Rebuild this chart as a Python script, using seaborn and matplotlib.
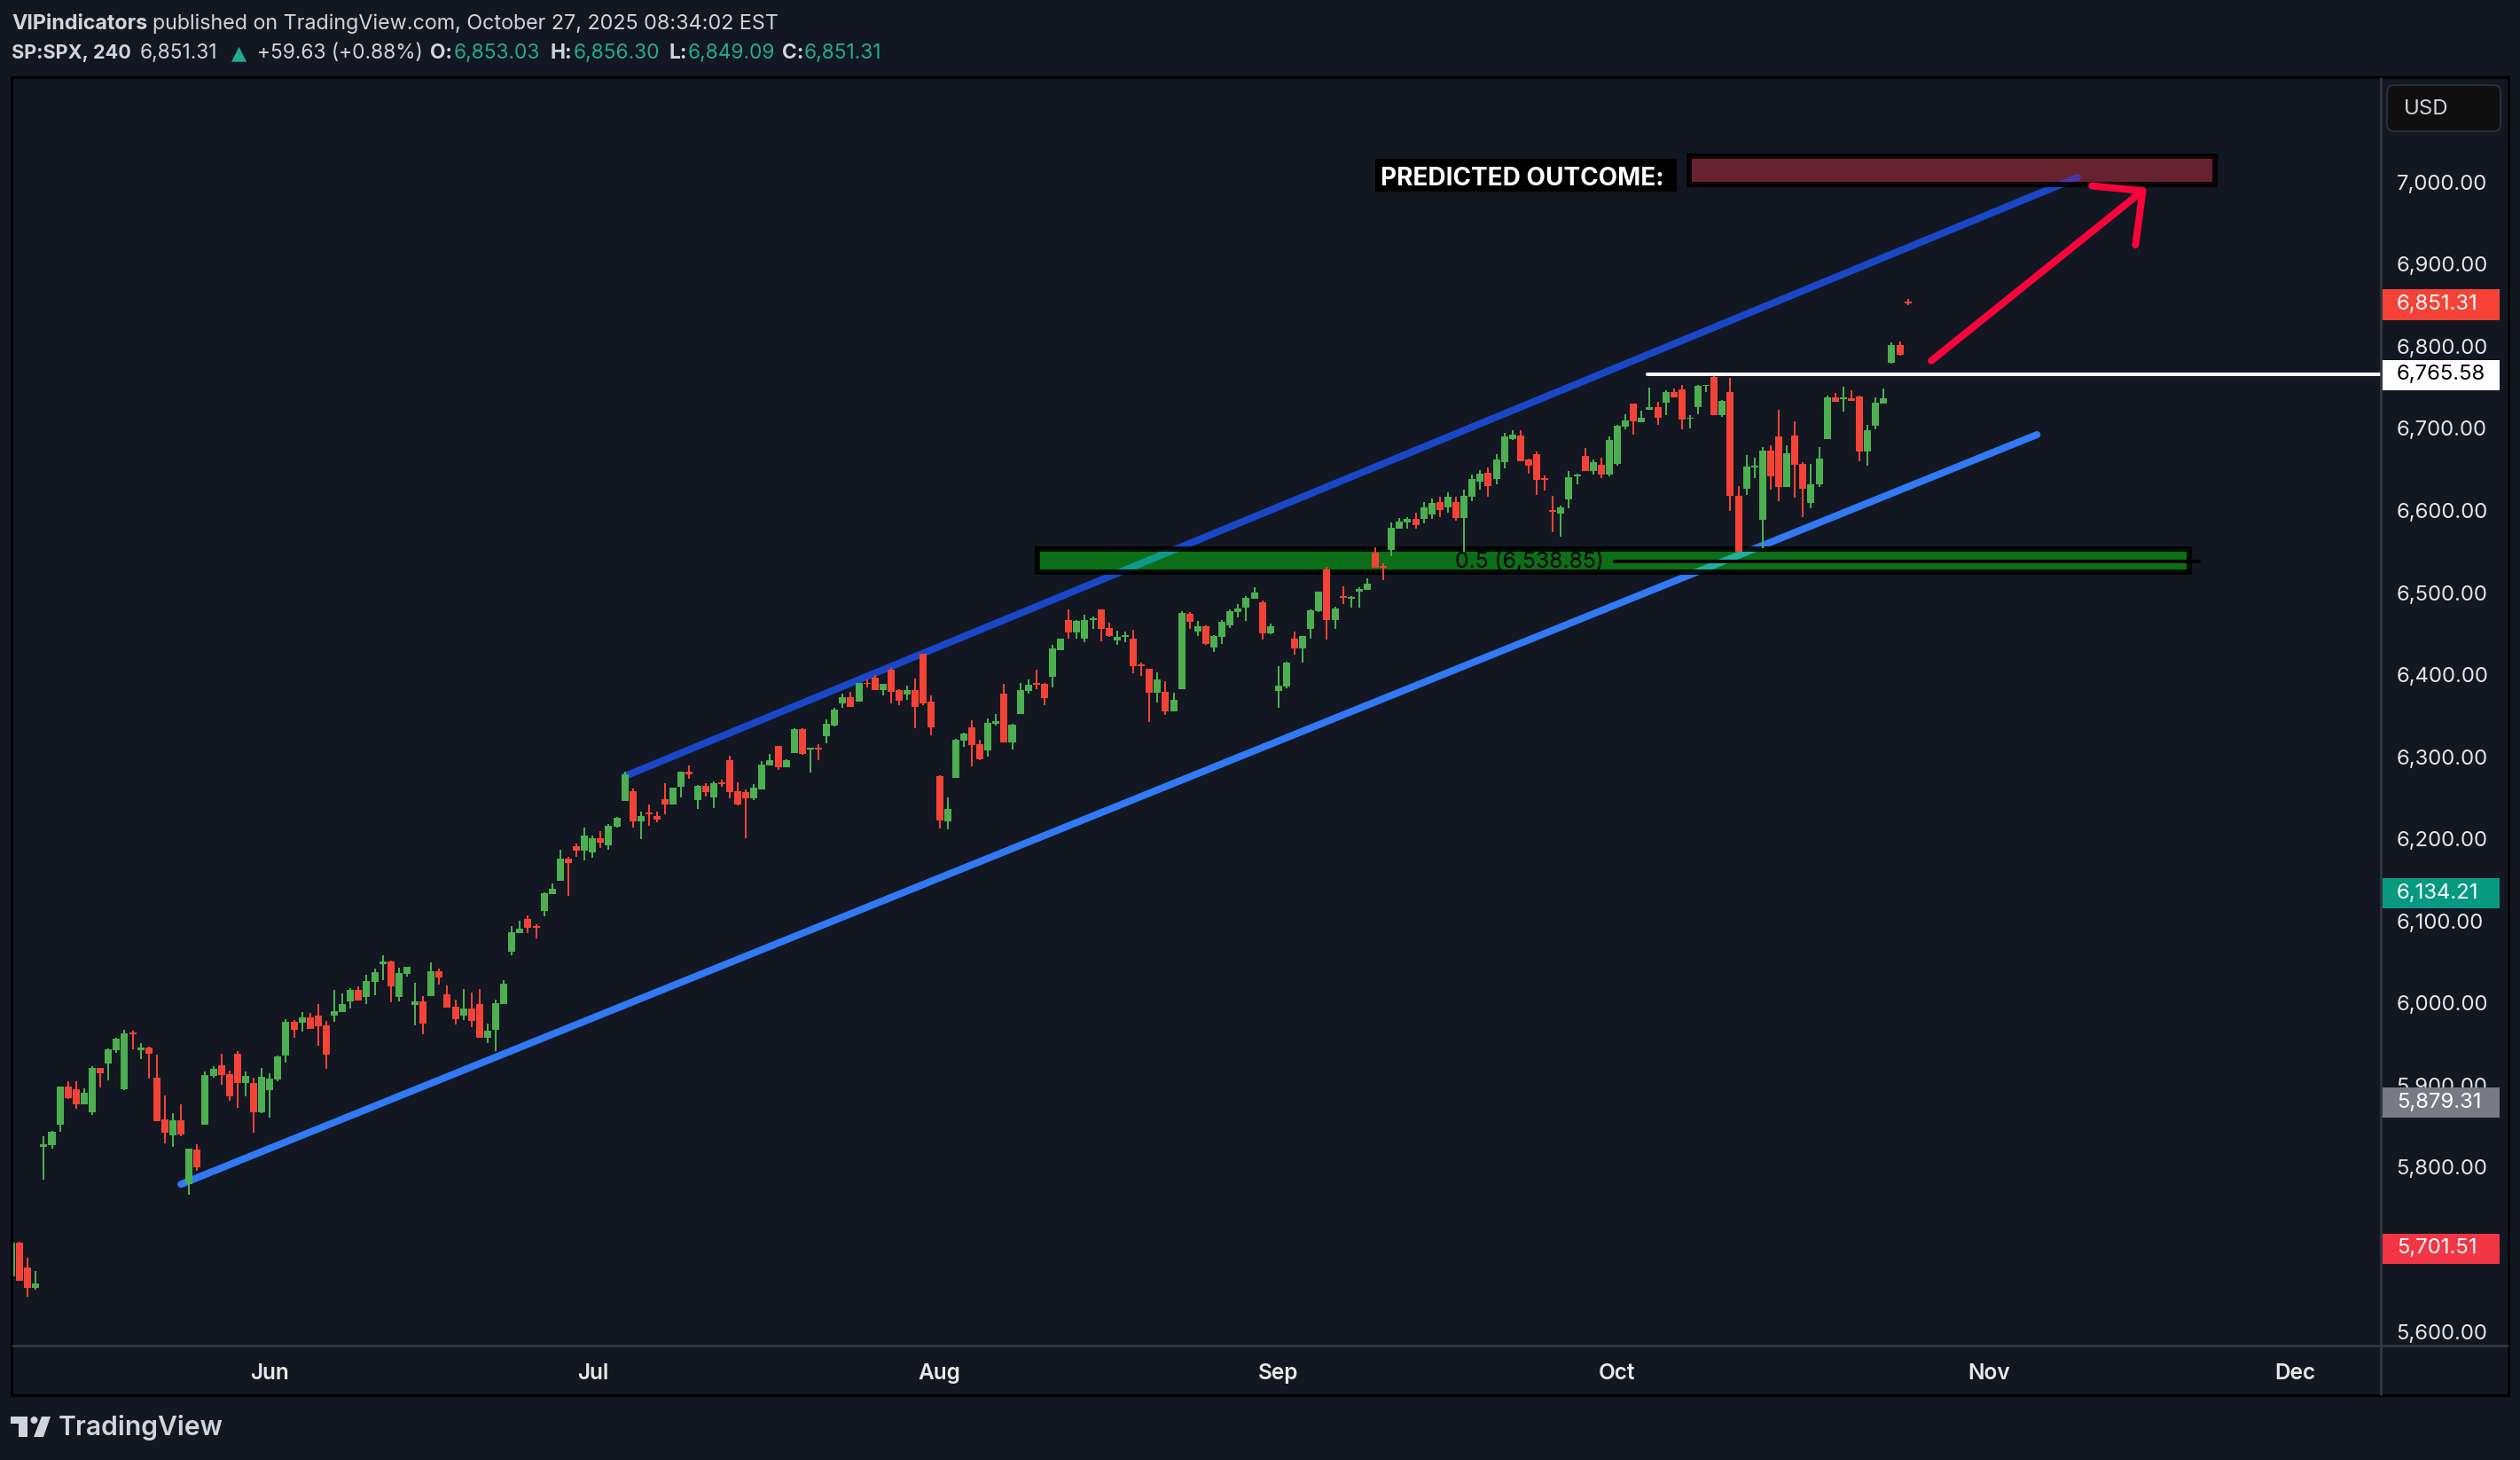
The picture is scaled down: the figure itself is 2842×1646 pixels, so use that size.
import pandas as pd
import matplotlib
matplotlib.use("Agg")
import matplotlib.pyplot as plt
import seaborn as sns
from matplotlib.patches import Rectangle, Polygon, Circle, FancyBboxPatch
from matplotlib.transforms import ScaledTranslation

# candles, 4h bars
opens = [
    5666,5707,5677,5652,5824,5826,5851,5897,5894,5875,
    5866,5920,5925,5941,5894,5963,5941,5944,5908,5857,
    5838,5856,5778,5820,5851,5910,5923,5912,5937,5901,
    5901,5866,5893,5906,5935,5976,5975,5981,5983,5972,
    5983,5988,6001,6015,6006,6024,6046,6049,6006,6034,
    5996,6001,6007,6037,6009,5994,5983,5992,5997,5956,
    5966,5997,6061,6084,6101,6092,6111,6131,6148,6175,
    6190,6184,6182,6200,6191,6213,6245,6257,6220,6231,
    6227,6247,6241,6262,6280,6246,6263,6249,6267,6294,
    6257,6256,6248,6259,6288,6312,6286,6303,6332,6307,
    6310,6324,6337,6364,6371,6366,6389,6395,6380,6405,
    6380,6374,6380,6424,6366,6275,6220,6273,6318,6334,
    6314,6306,6339,6376,6316,6351,6379,6389,6387,6396,
    6429,6465,6450,6443,6465,6478,6455,6440,6445,6442,
    6411,6406,6377,6378,6354,6381,6473,6451,6458,6432,
    6445,6459,6475,6480,6491,6487,6449,6379,6384,6443,
    6431,6454,6476,6527,6465,6494,6491,6500,6502,6547,
    6531,6551,6577,6584,6588,6588,6594,6609,6602,6609,
    6590,6615,6634,6645,6637,6658,6686,6690,6661,6667,
    6638,6599,6595,6612,6640,6665,6647,6654,6642,6655,
    6701,6729,6706,6721,6725,6730,6743,6746,6710,6724,
    6750,6761,6715,6743,6617,6625,6651,6587,6672,6689,
    6627,6690,6655,6608,6630,6686,6736,6734,6735,6738,
    6671,6702,6729,6779,6800,6853.03,
]
closes = [
    5707,5660,5652,5657,5827,5842,5897,5883,5875,5889,
    5920,5913,5942,5955,5962,5961,5944,5937,5855,5841,
    5856,5839,5821,5799,5911,5919,5911,5885,5901,5910,
    5866,5909,5907,5934,5976,5966,5981,5967,5970,5936,
    5989,5997,6015,6002,6026,6036,6049,6019,6035,6043,
    6001,5974,6037,6030,5993,5979,5992,5977,5956,5965,
    5999,6022,6085,6089,6090,6090,6132,6138,6175,6169,
    6184,6203,6200,6194,6215,6224,6277,6220,6227,6229,
    6222,6241,6261,6280,6277,6263,6256,6266,6265,6256,
    6240,6248,6261,6289,6294,6286,6294,6332,6302,6310,
    6307,6339,6356,6371,6359,6388,6387,6380,6387,6378,
    6367,6380,6359,6364,6335,6221,6235,6319,6327,6313,
    6296,6340,6342,6316,6338,6380,6386,6386,6370,6431,
    6443,6450,6464,6465,6467,6454,6446,6445,6447,6409,
    6409,6377,6393,6354,6368,6474,6463,6458,6436,6446,
    6463,6476,6479,6492,6499,6449,6458,6385,6413,6431,
    6446,6477,6500,6465,6479,6492,6493,6503,6509,6529,
    6529,6578,6585,6588,6581,6602,6608,6599,6615,6590,
    6617,6637,6643,6628,6661,6689,6691,6659,6653,6636,
    6636,6597,6602,6639,6642,6647,6658,6642,6685,6702,
    6708,6707,6712,6725,6712,6743,6736,6709,6712,6750,
    6752,6715,6732,6616,6548,6652,6653,6672,6640,6627,
    6668,6654,6625,6630,6662,6736,6731,6736,6732,6671,
    6696,6730,6735,6800,6788,6851.31,
]
highs = [
    5707,5708,5689,5672,5837,5843,5897,5903,5903,5895,
    5922,5920,5943,5956,5966,5965,5950,5946,5936,5886,
    5865,5875,5821,5827,5915,5922,5937,5916,5940,5915,
    5908,5920,5913,5935,5979,5978,5988,5987,5997,5977,
    6015,6010,6017,6019,6033,6041,6057,6050,6042,6043,
    6023,6007,6048,6041,6020,6003,6016,6011,6016,5974,
    6003,6027,6092,6099,6105,6095,6134,6144,6185,6177,
    6193,6212,6203,6208,6217,6225,6281,6260,6232,6240,
    6232,6266,6261,6281,6288,6264,6266,6269,6271,6300,
    6267,6259,6265,6293,6302,6312,6296,6333,6333,6310,
    6314,6344,6358,6376,6378,6388,6393,6398,6387,6407,
    6381,6385,6394,6424,6373,6276,6249,6321,6328,6343,
    6319,6345,6351,6387,6339,6388,6393,6405,6389,6435,
    6443,6478,6465,6472,6470,6478,6462,6452,6451,6453,
    6413,6406,6402,6391,6377,6476,6475,6464,6459,6447,
    6465,6478,6485,6494,6505,6489,6461,6409,6414,6451,
    6446,6478,6500,6530,6481,6506,6494,6505,6516,6554,
    6534,6584,6590,6591,6596,6609,6613,6615,6621,6615,
    6624,6642,6648,6651,6667,6693,6696,6696,6662,6670,
    6641,6616,6605,6647,6644,6675,6661,6663,6689,6703,
    6716,6729,6720,6748,6731,6745,6747,6751,6715,6752,
    6752,6762,6733,6760,6628,6666,6663,6676,6678,6721,
    6678,6707,6658,6655,6676,6739,6742,6749,6745,6739,
    6703,6736,6747,6803,6804,6856.30,
]
lows = [
    5666,5660,5641,5650,5784,5821,5842,5882,5870,5875,
    5862,5896,5905,5938,5893,5942,5930,5907,5855,5828,
    5824,5837,5765,5794,5851,5908,5899,5880,5871,5885,
    5841,5865,5859,5903,5926,5956,5964,5967,5947,5919,
    5976,5988,5992,6002,5997,6008,6027,6000,6001,6031,
    5971,5961,6007,6021,5993,5973,5978,5969,5956,5950,
    5940,5997,6057,6084,6084,6077,6104,6131,6148,6129,
    6177,6172,6176,6188,6185,6212,6245,6212,6198,6215,
    6219,6229,6240,6249,6272,6235,6250,6236,6262,6248,
    6239,6199,6246,6259,6288,6283,6286,6303,6301,6279,
    6294,6315,6336,6358,6359,6366,6383,6380,6373,6364,
    6361,6368,6333,6361,6325,6211,6210,6273,6311,6287,
    6294,6299,6337,6316,6307,6351,6376,6381,6361,6383,
    6429,6442,6443,6438,6454,6439,6445,6435,6438,6400,
    6397,6341,6365,6350,6354,6381,6454,6446,6435,6426,
    6436,6455,6469,6464,6491,6441,6448,6358,6382,6423,
    6413,6443,6475,6441,6454,6485,6480,6480,6502,6529,
    6514,6543,6577,6577,6576,6583,6588,6591,6596,6586,
    6548,6610,6624,6615,6631,6650,6684,6659,6643,6618,
    6623,6572,6567,6601,6631,6647,6642,6638,6640,6653,
    6698,6691,6706,6721,6703,6715,6736,6697,6699,6716,
    6743,6715,6713,6598,6548,6618,6638,6553,6624,6610,
    6627,6614,6591,6601,6627,6686,6731,6719,6732,6659,
    6653,6697,6729,6777,6787,6849.09,
]

# axis labels (5,700.00 sits fully behind its price tag in the chart)
price_ticks = [5600, 5800, 5900, 6000, 6100, 6200, 6300, 6400, 6500, 6600, 6700, 6800, 6900, 7000]
month_labels = ["Jun", "Jul", "Aug", "Sep", "Oct", "Nov", "Dec"]
month_bars = [32, 72, 115, 157, 199, 245, 283]

# drawings on the chart (bar number, price)
lower_line_x = [21, 251]
lower_line_y = [5778, 6691]
upper_line_x = [76, 256]
upper_line_y = [6275, 7004]
arrow_x = [237.9, 264.1]
arrow_y = [6781, 6988]
head_x = [257.8, 264.1, 263.2]
head_y = [6994, 6988, 6922]
resistance_x = [202.7, 300]
resistance_y = [6764, 6764]
fib_x = [198.7, 271.1]
fib_y = [6537, 6537]
support_zone = (127.1, 269.9, 6524, 6552)
target_zone = (207.9, 273.0, 6996, 7030)
outcome_box = (169.0, 206.4, 6987, 7027)

# labels on the price scale
price_tags = [
    (6851.31, "6,851.31", "#f44336", "#ffffff"),
    (6765.58, "6,765.58", "#ffffff", "#000000"),
    (6134.21, "6,134.21", "#089981", "#ffffff"),
    (5879.31, "5,879.31", "#787b86", "#ffffff"),
    (5701.51, "5,701.51", "#f23645", "#ffffff"),
]

W, H, DPI = 2842, 1646, 200
BG = "#131722"
UP = "#4caf50"
DOWN = "#f44336"
TEXT = "#d1d4dc"
TEAL = "#22ab94"
GRID = "#363a45"
LINE_BLUE = "#3179f5"
DARK_BLUE = "#1a47c8"
RED = "#f7053a"


def px(n):
    return n * 72 / DPI


def header_text(fig, x, y, s, color=TEXT, weight="normal", size=8.2, family="Inter"):
    fig.text(x / W, 1 - y / H, s, color=color, fontweight=weight, fontsize=size,
             family=family, va="center", ha="left")


def draw_chrome(fig, over):
    # frame and scale dividers
    over.add_patch(Rectangle((13, 87), 2816, 1486, fill=False, ec="#000000", lw=px(3)))
    over.plot([2685, 2685], [88, 1572], color=GRID, lw=px(2.5))
    over.plot([14, 2828], [1517, 1517], color=GRID, lw=px(2.5))

    # USD box
    over.add_patch(FancyBboxPatch((2696, 100), 120, 44, boxstyle="round,pad=4,rounding_size=8",
                                  fc="#0f0f0f", ec="#2a2e39", lw=px(2)))
    over.text(2711, 123, "USD", color=TEXT, fontsize=8.6, family="Inter", va="center", ha="left")

    # logo
    over.add_patch(Polygon([(12, 1597), (31, 1597), (31, 1620), (21, 1620), (21, 1605), (12, 1605)],
                           fc=TEXT, ec="none"))
    over.add_patch(Circle((38.5, 1601), 4, fc=TEXT, ec="none"))
    over.add_patch(Polygon([(57, 1597), (47, 1597), (38, 1620), (49, 1620)], fc=TEXT, ec="none"))
    over.text(66, 1610, "TradingView", color=TEXT, fontsize=10.85, family="Inter", fontweight="semibold",
              va="center", ha="left")

    # header lines
    header_text(fig, 13, 27, "VIPindicators", weight="bold", size=8.4)
    header_text(fig, 172, 27, "published on TradingView.com, October 27, 2025 08:34:02 EST", size=8.4)
    header_text(fig, 13, 60, "SP:SPX, 240", weight="bold", size=7.8)
    header_text(fig, 158, 60, "6,851.31")
    header_text(fig, 261, 60, "\u25b2", color=TEAL, family="DejaVu Sans", size=8)
    header_text(fig, 290, 60, "+59.63 (+0.88%)")
    header_text(fig, 485, 60, "O:", weight="bold")
    header_text(fig, 512, 60, "6,853.03", color=TEAL)
    header_text(fig, 621, 60, "H:", weight="bold")
    header_text(fig, 647, 60, "6,856.30", color=TEAL)
    header_text(fig, 754, 60, "L:", weight="bold")
    header_text(fig, 776, 60, "6,849.09", color=TEAL)
    header_text(fig, 882, 60, "C:", weight="bold")
    header_text(fig, 907, 60, "6,851.31", color=TEAL)


def draw_trendline(ax, xs, ys, color, width, zorder):
    sns.lineplot(x=xs, y=ys, ax=ax, color=color, linewidth=px(width), sort=False, estimator=None,
                 solid_capstyle="round", solid_joinstyle="round", legend=False, zorder=zorder)
    return ax.lines[-1]


def draw_zone(ax, zone, fill, edge_alpha=0.88):
    x0, x1, y0, y1 = zone
    face = Rectangle((x0, y0), x1 - x0, y1 - y0, fc=fill, ec="none", zorder=3)
    ax.add_patch(face)
    ax.add_patch(Rectangle((x0, y0), x1 - x0, y1 - y0, fill=False,
                           ec=(0, 0, 0, edge_alpha), lw=px(6), zorder=3.1))
    return face


def draw_candles(ax, df):
    colors = [UP if c >= o else DOWN for o, c in zip(df["open"], df["close"])]
    bottoms = df[["open", "close"]].min(axis=1)
    heights = (df["close"] - df["open"]).abs()
    ax.vlines(df.index, df["low"], df["high"], colors=colors, lw=px(2), zorder=5)
    ax.bar(df.index, heights, bottom=bottoms, width=0.88, color=colors, linewidth=0, zorder=5.1)


def main():
    sns.set_theme(style="dark", rc={
        "figure.facecolor": BG,
        "axes.facecolor": BG,
        "savefig.facecolor": BG,
        "axes.grid": False,
    })
    plt.rcParams["font.family"] = ["Inter", "DejaVu Sans"]

    df = pd.DataFrame({"open": opens, "high": highs, "low": lows, "close": closes})

    fig = plt.figure(figsize=(W / DPI, H / DPI), dpi=DPI)
    over = fig.add_axes([0, 0, 1, 1], zorder=5)
    over.set_xlim(0, W)
    over.set_ylim(H, 0)
    over.axis("off")
    over.patch.set_alpha(0)

    ax = fig.add_axes([14 / W, 1 - 1516 / H, (2685 - 14) / W, (1516 - 88) / H], zorder=1)

    # trend lines go under the zones and candles
    draw_trendline(ax, lower_line_x, lower_line_y, LINE_BLUE, 8, 2)
    draw_trendline(ax, upper_line_x, upper_line_y, DARK_BLUE, 8, 2)

    band = draw_zone(ax, support_zone, "#0c6e17")
    target = draw_zone(ax, target_zone, (0.42, 0.14, 0.19, 0.95))

    # the lines shine through the zones
    for xs, ys, col, zone in [(lower_line_x, lower_line_y, "#22ae9c", band),
                              (upper_line_x, upper_line_y, "#109888", band),
                              (upper_line_x, upper_line_y, "#4b35a5", target)]:
        over_line = draw_trendline(ax, xs, ys, col, 8, 3.05)
        over_line.set_clip_path(zone)

    draw_trendline(ax, fib_x, fib_y, "#000000", 4, 3.3)
    draw_trendline(ax, resistance_x, resistance_y, "#ffffff", 4, 4)
    draw_candles(ax, df)
    draw_trendline(ax, arrow_x, arrow_y, RED, 8, 6)
    draw_trendline(ax, head_x, head_y, RED, 8, 6)

    ax.text(178.9, 6537, "0.5 (6,538.85)", color="#000000", fontsize=8.9, va="center", ha="left", zorder=3.4)

    bx0, bx1, by0, by1 = outcome_box
    ax.add_patch(Rectangle((bx0, by0), bx1 - bx0, by1 - by0, fc="#000000", ec="none", zorder=6))
    ax.text(169.7, 7003, "PREDICTED OUTCOME:", color="#ffffff", fontsize=10.05, fontweight="bold",
            va="center", ha="left", zorder=6.1)

    ax.set_xlim(0.11, 293.6)
    ax.set_ylim(5582.6, 7125.3)
    ax.set(xlabel=None, ylabel=None)
    ax.set_xticks(month_bars)
    ax.set_xticklabels(month_labels, fontweight="semibold")
    ax.set_yticks(price_ticks)
    ax.set_yticklabels([f"{p:,.2f}" for p in price_ticks])
    ax.yaxis.tick_right()
    ax.tick_params(axis="y", length=0, pad=6.3, labelsize=8.6, labelcolor="#e4e6ec")
    ax.tick_params(axis="x", length=0, pad=7.5, labelsize=8.8, labelcolor="#e8e8e8")
    nudge = ScaledTranslation(0, -px(1.2) / 72, fig.dpi_scale_trans)
    for label in ax.get_yticklabels():
        label.set_transform(label.get_transform() + nudge)
    sns.despine(ax=ax, left=True, bottom=True, right=True, top=True)

    # price scale tags, x in axes fraction and y in price
    tag_tf = ax.get_yaxis_transform()
    for price, label, bg, fg in price_tags:
        ax.add_patch(Rectangle((1.0006, price - 20.5), 0.0494, 37, transform=tag_tf, fc=bg, ec="none",
                               clip_on=False, zorder=7))
        ax.text(1.0067, price - 1.5, label, transform=tag_tf, color=fg, fontsize=8.6, va="center", ha="left",
                clip_on=False, zorder=8)

    draw_chrome(fig, over)
    fig.savefig("out.png", dpi=DPI, facecolor=BG)


if __name__ == "__main__":
    main()
